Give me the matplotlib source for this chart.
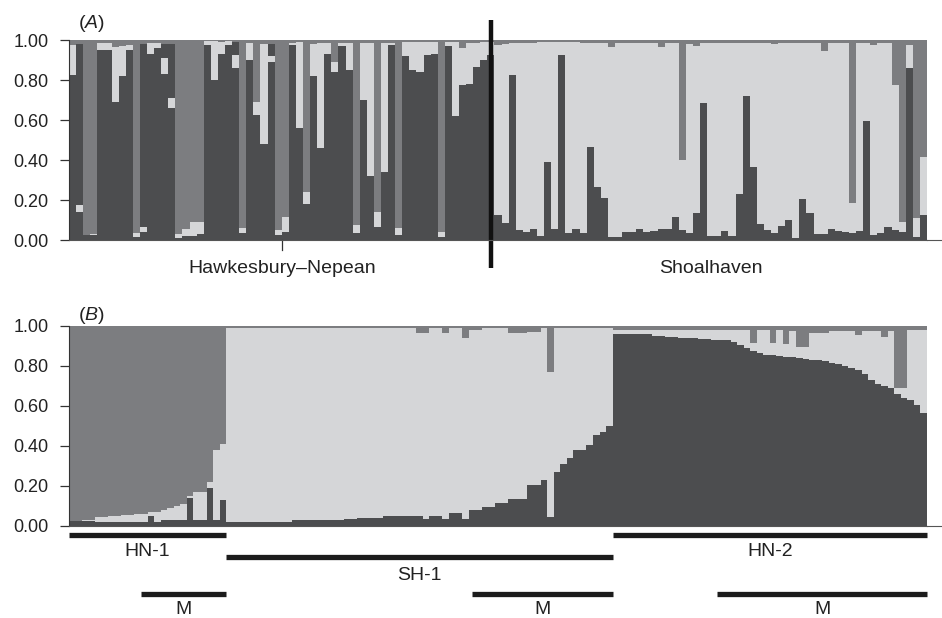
import numpy as np
import matplotlib
matplotlib.use('Agg')
import matplotlib.pyplot as plt

plt.rcParams['font.family'] = ['Liberation Sans', 'DejaVu Sans']
plt.rcParams['mathtext.fontset'] = 'custom'
plt.rcParams['mathtext.rm'] = 'Liberation Sans'
plt.rcParams['mathtext.it'] = 'Liberation Sans:italic'

DARK = '#4c4d4f'
MID = '#7c7d80'
LIGHT = '#d5d6d8'
INK = '#1c1c1c'

# ---- panel A: individuals in sampling order ----
pops_a = ['Hawkesbury\u2013Nepean', 'Shoalhaven']
n_hn = 60
# dark (bottom), light (middle), upper dark patch; the rest is mid grey on top
a_dark = [0.825, 0.14, 0.025, 0.025, 0.95, 0.95, 0.69, 0.82, 0.95, 0.015,
          0.04, 0.93, 0.96, 0.83, 0.66, 0.01, 0.02, 0.02, 0.03, 0.975,
          0.80, 0.93, 0.975, 0.86, 0.033, 0.90, 0.625, 0.48, 0.89, 0.025,
          0.04, 0.975, 0.56, 0.18, 0.82, 0.46, 0.93, 0.84, 0.97, 0.85,
          0.033, 0.70, 0.32, 0.067, 0.34, 0.975, 0.025, 0.92, 0.85, 0.84,
          0.925, 0.93, 0.017, 0.97, 0.62, 0.775, 0.78, 0.867, 0.90, 0.925,
          # Shoalhaven
          0.125, 0.083, 0.825, 0.05, 0.042, 0.053, 0.02, 0.39, 0.053, 0.925,
          0.033, 0.053, 0.033, 0.467, 0.267, 0.208, 0.017, 0.017, 0.038, 0.038,
          0.053, 0.042, 0.047, 0.053, 0.053, 0.117, 0.05, 0.033, 0.133, 0.687,
          0.02, 0.02, 0.045, 0.02, 0.23, 0.72, 0.367, 0.08, 0.05, 0.033,
          0.072, 0.10, 0.008, 0.203, 0.133, 0.028, 0.028, 0.053, 0.045, 0.038,
          0.033, 0.047, 0.595, 0.025, 0.033, 0.067, 0.05, 0.04, 0.858, 0.017,
          0.125]
a_light = [0.15, 0.035, 0.0, 0.005, 0.037, 0.037, 0.277, 0.15, 0.025, 0.02,
           0.025, 0.055, 0.025, 0.08, 0.05, 0.02, 0.035, 0.07, 0.06, 0.02,
           0.195, 0.06, 0.02, 0.065, 0.025, 0.085, 0.065, 0.50, 0.03, 0.025,
           0.075, 0.01, 0.43, 0.06, 0.16, 0.525, 0.055, 0.05, 0.015, 0.135,
           0.042, 0.285, 0.665, 0.073, 0.645, 0.01, 0.033, 0.07, 0.14, 0.15,
           0.065, 0.06, 0.023, 0.02, 0.37, 0.185, 0.205, 0.118, 0.09, 0.065,
           # Shoalhaven
           0.85, 0.897, 0.16, 0.935, 0.943, 0.932, 0.97, 0.60, 0.937, 0.065,
           0.957, 0.937, 0.952, 0.518, 0.718, 0.777, 0.948, 0.968, 0.947, 0.947,
           0.932, 0.943, 0.938, 0.912, 0.932, 0.868, 0.35, 0.947, 0.837, 0.298,
           0.965, 0.965, 0.94, 0.965, 0.755, 0.265, 0.618, 0.905, 0.935, 0.947,
           0.913, 0.885, 0.977, 0.782, 0.852, 0.957, 0.917, 0.932, 0.94, 0.947,
           0.154, 0.938, 0.39, 0.95, 0.952, 0.918, 0.725, 0.05, 0.117, 0.091,
           0.292]
a_dark_up = [0.0, 0.805, 0.0, 0.0, 0.0, 0.0, 0.0, 0.0, 0.0, 0.0,
             0.915, 0.0, 0.0, 0.07, 0.27, 0.0, 0.0, 0.0, 0.0, 0.0,
             0.0, 0.0, 0.0, 0.065, 0.0, 0.0, 0.0, 0.0, 0.06, 0.0,
             0.0, 0.0, 0.0, 0.0, 0.0, 0.0, 0.0, 0.0, 0.0, 0.0,
             0.0, 0.0, 0.0, 0.0, 0.0, 0.0, 0.0, 0.0, 0.0, 0.0,
             0.0, 0.0, 0.0, 0.0, 0.0, 0.0, 0.0, 0.0, 0.0, 0.0] + [0.0] * 61

# ---- panel B: individuals sorted by cluster ----
groups_b = ['HN-1', 'SH-1', 'HN-2']
group_edges = [0, 24, 83, 131]
m_start = [11, 61.5, 99]
m_end = [24, 83, 131]
b_dark = [0.025, 0.025, 0.025, 0.025, 0.02, 0.02, 0.02, 0.02, 0.02, 0.02,
          0.02, 0.02, 0.05, 0.02, 0.03, 0.03, 0.03, 0.03, 0.14, 0.03,
          0.03, 0.19, 0.03, 0.13,
          # SH-1
          0.02, 0.02, 0.02, 0.02, 0.02, 0.02, 0.02, 0.02, 0.02, 0.02,
          0.03, 0.03, 0.03, 0.03, 0.03, 0.03, 0.03, 0.03, 0.035, 0.035,
          0.04, 0.04, 0.04, 0.04, 0.05, 0.05, 0.05, 0.05, 0.05, 0.05,
          0.035, 0.05, 0.05, 0.035, 0.063, 0.063, 0.033, 0.08, 0.08, 0.093,
          0.093, 0.117, 0.117, 0.133, 0.133, 0.133, 0.205, 0.205, 0.23, 0.043,
          0.27, 0.31, 0.34, 0.38, 0.38, 0.405, 0.455, 0.47, 0.50,
          # HN-2
          0.96, 0.96, 0.96, 0.96, 0.96, 0.96, 0.95, 0.95, 0.945, 0.945,
          0.94, 0.94, 0.94, 0.937, 0.937, 0.93, 0.93, 0.93, 0.92, 0.905,
          0.89, 0.875, 0.865, 0.855, 0.855, 0.85, 0.845, 0.843, 0.84, 0.835,
          0.83, 0.83, 0.825, 0.817, 0.81, 0.80, 0.79, 0.78, 0.76, 0.73,
          0.71, 0.70, 0.688, 0.66, 0.64, 0.63, 0.605, 0.565]
b_light = [0.0, 0.0, 0.005, 0.005, 0.025, 0.025, 0.03, 0.03, 0.035, 0.035,
           0.04, 0.04, 0.02, 0.05, 0.05, 0.06, 0.07, 0.08, 0.01, 0.14,
           0.14, 0.03, 0.35, 0.28,
           # SH-1
           0.968, 0.968, 0.968, 0.968, 0.968, 0.968, 0.968, 0.968, 0.968, 0.968,
           0.958, 0.958, 0.958, 0.958, 0.958, 0.958, 0.958, 0.958, 0.953, 0.953,
           0.948, 0.948, 0.948, 0.948, 0.938, 0.938, 0.938, 0.938, 0.938, 0.915,
           0.93, 0.938, 0.938, 0.93, 0.925, 0.925, 0.907, 0.90, 0.90, 0.895,
           0.895, 0.871, 0.871, 0.832, 0.832, 0.832, 0.765, 0.765, 0.758, 0.727,
           0.718, 0.678, 0.648, 0.608, 0.608, 0.583, 0.533, 0.518, 0.488,
           # HN-2
           0.02, 0.02, 0.02, 0.02, 0.02, 0.02, 0.03, 0.03, 0.035, 0.035,
           0.04, 0.04, 0.04, 0.043, 0.043, 0.05, 0.05, 0.05, 0.06, 0.075,
           0.09, 0.04, 0.115, 0.125, 0.06, 0.13, 0.065, 0.132, 0.055, 0.06,
           0.135, 0.135, 0.14, 0.158, 0.165, 0.175, 0.185, 0.175, 0.215, 0.245,
           0.265, 0.247, 0.287, 0.03, 0.05, 0.35, 0.375, 0.415]


def structure_bars(ax, parts, colors):
    n = len(parts[0])
    x = np.arange(n)
    bottom = np.zeros(n)
    for vals, col in zip(parts, colors):
        vals = np.asarray(vals)
        ax.bar(x, vals, width=1.0, bottom=bottom, align='edge', color=col,
               linewidth=0, antialiased=False)
        bottom = bottom + vals
    ax.bar(x, 1 - bottom, width=1.0, bottom=bottom, align='edge', color=MID,
           linewidth=0, antialiased=False)
    ax.set_xlim(0, n)
    ax.set_ylim(0, 1)


def style_axes(ax):
    for s in ['top', 'right']:
        ax.spines[s].set_visible(False)
    ax.spines['left'].set_color('#333333')
    ax.spines['bottom'].set_color('#555555')
    ax.spines['bottom'].set_linewidth(0.8)
    ax.set_yticks([0, 0.2, 0.4, 0.6, 0.8, 1.0])
    ax.set_yticklabels([f'{v:.2f}' for v in [0, 0.2, 0.4, 0.6, 0.8, 1.0]])
    ax.tick_params(axis='y', length=6.5, width=0.9, color='#333333',
                   labelsize=13, labelcolor='#222222', pad=8)
    ax.set_xticks([])
    ax.plot([1.0, 1.017], [0, 0], transform=ax.transAxes, color='#555555',
            lw=0.8, clip_on=False)


fig = plt.figure(figsize=(9.42, 6.18), dpi=100)
W, H = 942, 618
ax_a = fig.add_axes([69 / W, 1 - 240 / H, 858 / W, 200 / H])
ax_b = fig.add_axes([69 / W, 1 - 526 / H, 858 / W, 200 / H])

# panel A
structure_bars(ax_a, [a_dark, a_light, a_dark_up], [DARK, LIGHT, DARK])
style_axes(ax_a)
n_a = len(a_dark)
ax_a.plot([n_hn - 0.5, n_hn - 0.5], [-0.14, 1.10], color='#111111', lw=3.2,
          clip_on=False, solid_capstyle='butt')
ax_a.plot([n_hn / 2, n_hn / 2], [0, -0.05], color='#333333', lw=0.9,
          clip_on=False)
ax_a.text(n_hn / 2, -0.14, pops_a[0], ha='center', va='center', fontsize=14,
          color='#222222')
ax_a.text((n_hn + n_a) / 2, -0.14, pops_a[1], ha='center', va='center',
          fontsize=14, color='#222222')
ax_a.text(0.01, 1.085, r'($\mathit{A}$)', transform=ax_a.transAxes,
          ha='left', va='center', fontsize=14, color='#222222')

# panel B
structure_bars(ax_b, [b_dark, b_light], [DARK, LIGHT])
style_axes(ax_b)
ax_b.text(0.01, 1.055, r'($\mathit{B}$)', transform=ax_b.transAxes,
          ha='left', va='center', fontsize=14, color='#222222')

bar_y = [-0.045, -0.155, -0.045]
lab_y = [-0.13, -0.245, -0.13]
for i, name in enumerate(groups_b):
    x0, x1 = group_edges[i], group_edges[i + 1]
    ax_b.plot([x0, x1], [bar_y[i], bar_y[i]], color=INK, lw=3.8,
              solid_capstyle='butt', clip_on=False)
    ax_b.text((x0 + x1) / 2, lab_y[i], name, ha='center', va='center',
              fontsize=14, color='#222222')
for x0, x1 in zip(m_start, m_end):
    ax_b.plot([x0, x1], [-0.34, -0.34], color=INK, lw=3.8,
              solid_capstyle='butt', clip_on=False)
    ax_b.text((x0 + x1) / 2, -0.42, 'M', ha='center', va='center',
              fontsize=14, color='#222222')

fig.savefig('out.png', dpi=100)
